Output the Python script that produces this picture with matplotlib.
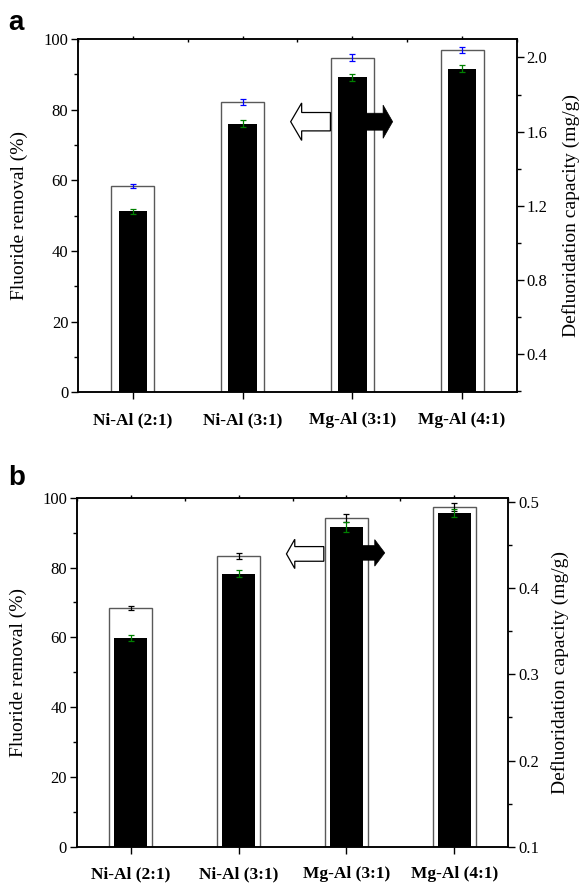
import matplotlib
matplotlib.use("Agg")

import numpy as np
import matplotlib.pyplot as plt
from matplotlib.patches import FancyArrow
from matplotlib.ticker import MultipleLocator

plt.rcParams["font.family"] = ["Liberation Serif", "DejaVu Serif"]

categories = ["Ni-Al (2:1)", "Ni-Al (3:1)", "Mg-Al (3:1)", "Mg-Al (4:1)"]

# panel a
removal_a = [58.4, 82.2, 94.7, 96.9]
removal_err_a = [0.6, 0.85, 1.0, 0.95]
capacity_a = [1.169, 1.643, 1.894, 1.939]
capacity_err_a = [0.013, 0.017, 0.019, 0.020]

# panel b
removal_b = [68.4, 83.3, 94.1, 97.3]
removal_err_b = [0.67, 0.8, 1.15, 1.05]
capacity_b = [0.342, 0.417, 0.471, 0.487]
capacity_err_b = [0.0035, 0.0039, 0.0054, 0.0048]

x = np.arange(1, len(categories) + 1)


def panel(rect, removal, removal_err, capacity, capacity_err, removal_color,
          cap_lim, cap_major, white_w, black_w, arrows, letter, letter_y,
          rlabelpad):
    ax = fig.add_axes(rect)
    ax2 = ax.twinx()

    ax.bar(x, removal, width=white_w, color="white", edgecolor="0.35",
           linewidth=1.0, zorder=2)
    ax.errorbar(x, removal, yerr=removal_err, fmt="none", ecolor=removal_color,
                elinewidth=0.9, capsize=2.5, capthick=0.9, zorder=3)

    ax2.bar(x, capacity, width=black_w, color="black", zorder=2)
    ax2.errorbar(x, capacity, yerr=capacity_err, fmt="none", ecolor="green",
                 elinewidth=0.9, capsize=2.5, capthick=0.9, zorder=3)

    # arrows: white -> left axis, black -> right axis
    (wx0, wx1, wy, wsh, whw, whl), (bx0, bx1, by, bsh, bhw, bhl) = arrows
    ax2.add_patch(FancyArrow(wx0, wy, wx1 - wx0, 0, width=wsh, head_width=whw,
                             head_length=whl, length_includes_head=True,
                             facecolor="white", edgecolor="black", linewidth=0.9,
                             transform=ax.transData, zorder=4))
    ax2.add_patch(FancyArrow(bx0, by, bx1 - bx0, 0, width=bsh, head_width=bhw,
                             head_length=bhl, length_includes_head=True,
                             facecolor="black", edgecolor="black", linewidth=0.5,
                             transform=ax.transData, zorder=4))

    ax.set_xlim(0.5, 4.5)
    ax.set_ylim(0, 100)
    ax2.set_ylim(*cap_lim)

    ax.set_xticks(x)
    ax.set_xticklabels(categories, fontweight="bold", fontsize=12.5)
    ax.xaxis.set_minor_locator(MultipleLocator(0.5))
    ax.yaxis.set_major_locator(MultipleLocator(20))
    ax.yaxis.set_minor_locator(MultipleLocator(10))
    ax2.yaxis.set_major_locator(MultipleLocator(cap_major))
    ax2.yaxis.set_minor_locator(MultipleLocator(cap_major / 2))

    ax.tick_params(axis="y", which="major", direction="out", length=5, width=1,
                   labelsize=12, pad=2)
    ax.tick_params(axis="y", which="minor", direction="out", length=3, width=1)
    ax.tick_params(axis="x", which="major", direction="out", length=5, width=1,
                   pad=9, top=True)
    ax.tick_params(axis="x", which="minor", direction="in", length=2, width=1,
                   top=True, bottom=False)
    ax2.tick_params(axis="y", which="major", direction="out", length=5, width=1,
                    labelsize=12, pad=2)
    ax2.tick_params(axis="y", which="minor", direction="out", length=3, width=1)
    for t in ax.xaxis.get_major_ticks():
        t.tick2line.set_markersize(2)

    for a in (ax, ax2):
        for s in a.spines.values():
            s.set_linewidth(1.1)

    ax.set_ylabel("Fluoride removal (%)", fontsize=14, labelpad=11)
    ax2.set_ylabel("Defluoridation capacity (mg/g)", fontsize=14,
                   labelpad=rlabelpad)

    fig.text(0.014, letter_y, letter, fontsize=20, fontweight="bold",
             family="Liberation Sans", va="baseline")
    return ax, ax2


fig = plt.figure(figsize=(5.79, 8.92), dpi=100)

panel([0.1347, 0.5600, 0.7582, 0.3963], removal_a, removal_err_a, capacity_a,
      capacity_err_a, "blue", (0.19, 2.10), 0.4, 0.39, 0.26,
      ((2.80, 2.438, 76.6, 5.2, 10.6, 0.10), (3.13, 3.367, 76.6, 4.8, 9.4, 0.087)),
      "a", 1 - 29.5 / 892, 10)

panel([0.1325, 0.0508, 0.7454, 0.3912], removal_b, removal_err_b, capacity_b,
      capacity_err_b, "black", (0.1, 0.505), 0.1, 0.40, 0.30,
      ((2.79, 2.444, 83.9, 4.2, 8.4, 0.077), (3.15, 3.355, 84.2, 4.2, 7.6, 0.093)),
      "b", 1 - 485 / 892, 9)

fig.savefig("out.png", dpi=100)
